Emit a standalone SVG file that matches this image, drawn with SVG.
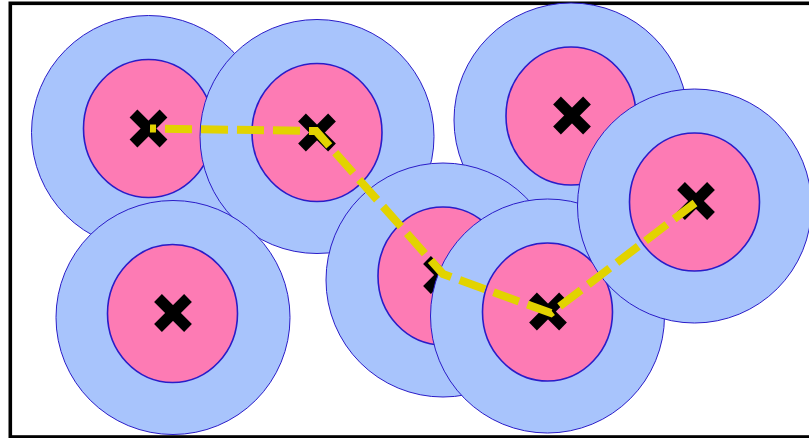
<svg xmlns="http://www.w3.org/2000/svg" width="809" height="438" viewBox="0 0 809 438">
<style>
.outer{fill:#a8c4fc;stroke:#2a1cc8;stroke-width:1}
.inner{fill:#fd7bb4;stroke:#2a1cc8;stroke-width:1.6}
.x{stroke:#000;stroke-width:11;stroke-linecap:butt}
.route{fill:none;stroke:#e2d300;stroke-width:8;stroke-dasharray:27 9;stroke-dashoffset:21;stroke-linejoin:miter}
</style>
<defs>
<g id="mark"><line class="x" x1="-15" y1="-15" x2="15" y2="15"/><line class="x" x1="-15" y1="15" x2="15" y2="-15"/></g>
</defs>
<rect x="0" y="0" width="809" height="438" fill="#fff"/>
<rect x="10.3" y="3.3" width="810" height="433.7" fill="none" stroke="#000" stroke-width="3.6"/>
<g id="nodeA"><circle class="outer" cx="148.5" cy="132.5" r="117"/><ellipse class="inner" cx="148.5" cy="128.5" rx="65" ry="69"/><use href="#mark" x="148.5" y="128.5"/></g>
<g id="nodeB"><circle class="outer" cx="317" cy="136.5" r="117"/><ellipse class="inner" cx="317" cy="132.5" rx="65" ry="69"/><use href="#mark" x="317" y="132.5"/></g>
<g id="nodeC"><circle class="outer" cx="571" cy="120" r="117"/><ellipse class="inner" cx="571" cy="116" rx="65" ry="69"/><use href="#mark" x="572" y="115.5"/></g>
<g id="nodeG"><circle class="outer" cx="173" cy="317.5" r="117"/><ellipse class="inner" cx="172.5" cy="313.5" rx="65" ry="69"/><use href="#mark" x="173" y="313"/></g>
<g id="nodeE"><circle class="outer" cx="443" cy="280" r="117"/><ellipse class="inner" cx="443" cy="276" rx="65" ry="69"/><use href="#mark" x="442" y="275"/></g>
<g id="nodeF"><circle class="outer" cx="547.5" cy="316" r="117"/><ellipse class="inner" cx="547.5" cy="312" rx="65" ry="69"/><use href="#mark" x="548" y="311.5"/></g>
<g id="nodeD"><circle class="outer" cx="694.5" cy="206" r="117"/><ellipse class="inner" cx="694.5" cy="202" rx="65" ry="69"/><use href="#mark" x="696" y="201"/></g>
<g id="connectors">
<polyline class="route" points="150,128.5 316,131 443,274 551,313 695,203"/>
</g>
</svg>
